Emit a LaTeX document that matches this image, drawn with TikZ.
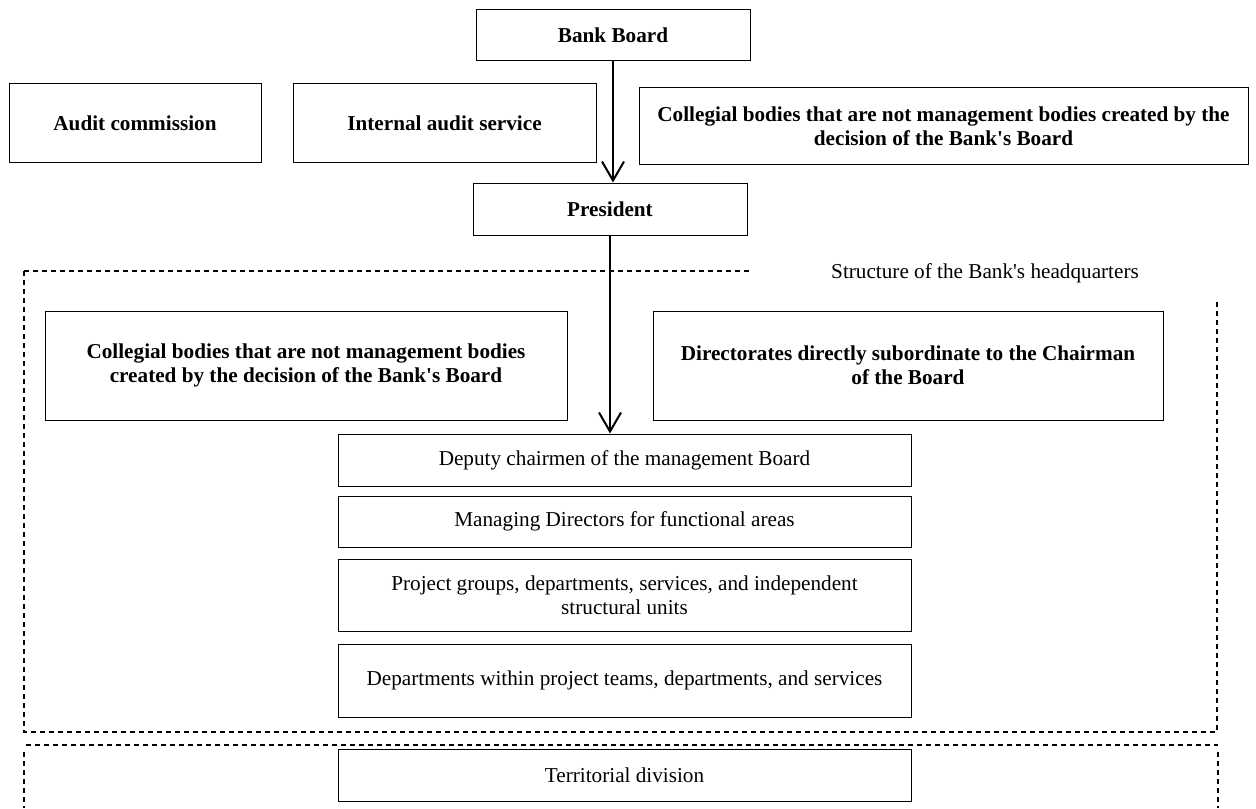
\documentclass[tikz,border=0pt]{standalone}
\usepackage{fontspec}
\setmainfont{Liberation Serif}
\usetikzlibrary{arrows.meta}

\begin{document}
\begin{tikzpicture}[x=0.5pt,y=-0.5pt,
    box/.style={draw,line width=0.5pt,align=center,inner sep=2pt,
        font=\fontsize{10.6}{12}\selectfont},
    bbox/.style={box,font=\fontsize{10.6}{12}\selectfont\bfseries},
    link/.style={line width=1pt,-{Straight Barb[length=9.5pt,width=11pt,line width=1pt]}},
    frame/.style={line width=0.6pt,dash pattern=on 2.5pt off 2pt}]
    \useasboundingbox (0,0) rectangle (1256,808);

    % top level
    \node[bbox,minimum width=137pt,minimum height=25.5pt] (board) at (613,35.5) {Bank Board};
    \node[bbox,minimum width=126pt,minimum height=39pt] (audit) at (135,123) {Audit commission};
    \node[bbox,minimum width=151.5pt,minimum height=39pt] (internal) at (444.5,123) {Internal audit service};
    \node[bbox,minimum width=304.5pt,minimum height=38pt] (collegial) at (943.5,126)
        {Collegial bodies that are not management bodies created by the\\decision of the Bank\textquotesingle s Board};
    \node[bbox,minimum width=137pt,minimum height=26pt] (president) at (610,209) {President};

    % headquarters
    \draw[frame] (24,271) -- (750,271);
    \draw[frame] (24,271) -- (24,732) -- (1217,732) -- (1217,299);
    \node[font=\fontsize{10.6}{12}\selectfont] (hq) at (985,273) {Structure of the Bank\textquotesingle s headquarters};

    \node[bbox,minimum width=261pt,minimum height=54.5pt] (colleg) at (306,365.5)
        {Collegial bodies that are not management bodies\\created by the decision of the Bank\textquotesingle s Board};
    \node[bbox,minimum width=255pt,minimum height=54.5pt] (direct) at (908,365.5)
        {Directorates directly subordinate to the Chairman\\of the Board};

    \node[box,minimum width=286.5pt,minimum height=26pt] (deputy) at (624.5,460) {Deputy chairmen of the management Board};
    \node[box,minimum width=286.5pt,minimum height=25.5pt] (managing) at (624.5,521.5) {Managing Directors for functional areas};
    \node[box,minimum width=286.5pt,minimum height=36pt] (project) at (624.5,595)
        {Project groups, departments, services, and independent\\structural units};
    \node[box,minimum width=286.5pt,minimum height=36.5pt] (depts) at (624.5,680.5)
        {Departments within project teams, departments, and services};

    % territorial
    \draw[frame] (26,745) -- (1218,745);
    \draw[frame] (24,752) -- (24,808);
    \draw[frame] (1218,752) -- (1218,808);
    \node[box,minimum width=286.5pt,minimum height=26pt] (territ) at (624.5,775) {Territorial division};

    \draw[link] (board.south) -- (board.south |- president.north);
    \draw[link] (president.south) -- (president.south |- deputy.north);
\end{tikzpicture}
\end{document}
